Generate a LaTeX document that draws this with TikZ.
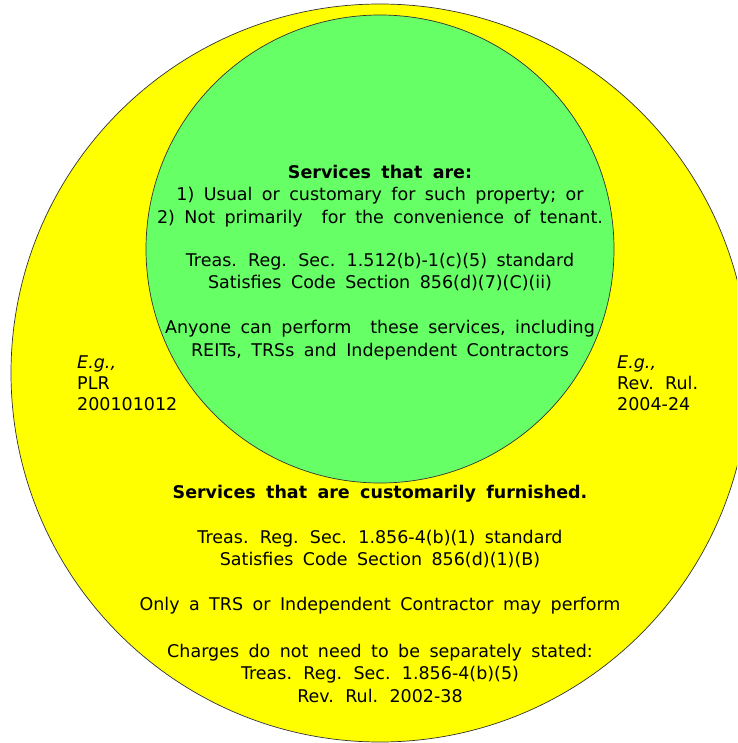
\documentclass[tikz,border=0pt]{standalone}
\usepackage{fontspec}
\setmainfont{DejaVu Sans}[WordSpace={1.7}]
\usetikzlibrary{positioning}

\definecolor{ringyellow}{HTML}{FFFF00}
\definecolor{ringgreen}{HTML}{66FF66}

\begin{document}
\begin{tikzpicture}[x=1pt,y=-1pt]
    \tikzstyle{ring}=[circle, draw=black!80, line width=0.7pt, inner sep=0pt]
    \tikzstyle{every node}=[font={\fontsize{17.5}{22.5}\selectfont}]
    \tikzstyle{para}=[align=center, inner sep=0pt]
    \tikzstyle{side}=[align=left, inner sep=0pt, anchor=west,
        font={\fontsize{17.5}{21}\selectfont}]
    \useasboundingbox (0,0) rectangle (737,743);
    \clip (0,0) rectangle (737,743);
    \node[ring, fill=ringyellow, minimum size=738pt] (outer) at (380,373) {};
    \node[ring, fill=ringgreen, minimum size=468pt] (inner) at (380,249) {};
    % inner circle
    \node[para] (greenhead) at (380,196) {\textbf{Services that are:}\\
        1) Usual or customary for such property; or\\
        2) Not primarily\ \ for the convenience of tenant.};
    \node[para] (greenreg) at (380,272) {Treas. Reg. Sec. 1.512(b)-1(c)(5) standard\\
        Satisfies Code Section 856(d)(7)(C)(ii)};
    \node[para] (greenwho) at (380,340) {Anyone can perform\ \ these services, including\\
        REITs, TRSs and Independent Contractors};
    % examples
    \node[side] (lefteg) at (77,383) {\textit{E.g.,}\\ PLR\\ 200101012};
    \node[side] (righteg) at (617,383) {\textit{E.g.,}\\ Rev. Rul.\\ 2004-24};
    % outer circle
    \node[para] (yellowhead) at (380,494) {\textbf{Services that are customarily furnished.}};
    \node[para] (yellowreg) at (380,549) {Treas. Reg. Sec. 1.856-4(b)(1) standard\\
        Satisfies Code Section 856(d)(1)(B)};
    \node[para] (yellowwho) at (380,606) {Only a TRS or Independent Contractor may perform};
    \node[para] (yellowcharge) at (380,673) {Charges do not need to be separately stated:\\
        Treas. Reg. Sec. 1.856-4(b)(5)\\
        Rev. Rul. 2002-38};
\end{tikzpicture}
\end{document}
